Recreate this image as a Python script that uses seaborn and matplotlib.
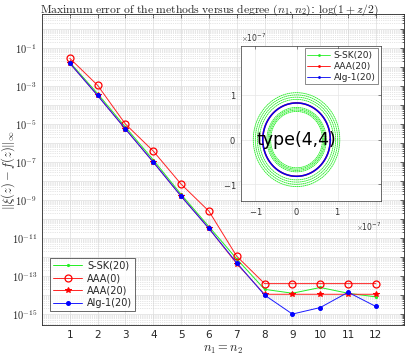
import numpy as np
import pandas as pd
import seaborn as sns
import matplotlib.pyplot as plt
import matplotlib.ticker as mticker

# main panel: max error vs degree
n = [1, 2, 3, 4, 5, 6, 7, 8, 9, 10, 11, 12]
err_ssk20 = [1.8e-2, 4.0e-4, 7.0e-6, 1.3e-7, 2.0e-9, 4.0e-11, 8.0e-13, 2.0e-14, 1.25e-14, 2.5e-14, 1.25e-14, 8.0e-15]
err_aaa0 = [2.9e-2, 1.1e-3, 1.0e-5, 3.8e-7, 6.9e-9, 2.6e-10, 1.1e-12, 4.0e-14, 4.0e-14, 4.0e-14, 4.0e-14, 4.0e-14]
err_aaa20 = [1.6e-2, 3.2e-4, 5.5e-6, 1.0e-7, 1.6e-9, 3.2e-11, 4.5e-13, 1.1e-14, 1.1e-14, 1.1e-14, 1.1e-14, 1.1e-14]
err_alg1 = [1.6e-2, 3.2e-4, 5.5e-6, 1.0e-7, 1.6e-9, 3.2e-11, 5.0e-13, 1.0e-14, 1.0e-15, 2.2e-15, 1.4e-14, 2.5e-15]

# inset: error curves for type (4,4), radii in units of 1e-7
radii_ssk = [0.63, 0.66, 0.69, 0.72, 0.90, 0.95, 1.00, 1.05]
radii_aaa = [0.82]
radii_alg = [0.82]

sns.set_theme(style="white")
plt.rcParams['font.family'] = ['DejaVu Sans']
plt.rcParams['mathtext.fontset'] = 'cm'

df = pd.DataFrame({'n': n, 'S-SK(20)': err_ssk20, 'AAA(0)': err_aaa0,
                   'AAA(20)': err_aaa20, 'Alg-1(20)': err_alg1})

fig = plt.figure(figsize=(4.07, 3.60), dpi=100)
ax = fig.add_axes([0.103, 0.097, 0.889, 0.864])

green = '#22ee22'
styles = {
    'S-SK(20)': dict(color=green, marker='.', markersize=3, mfc=green, mec=green),
    'AAA(0)': dict(color='#ff2222', marker='o', markersize=5, mfc='none', mec='#ff0000', mew=0.9),
    'AAA(20)': dict(color='#ff2222', marker='*', markersize=4, mfc='#ff0000', mec='#ff0000'),
    'Alg-1(20)': dict(color='#1a1aff', marker='o', markersize=2.8, mfc='#0000ff', mec='#0000ff'),
}
for name, st in styles.items():
    sns.lineplot(data=df, x='n', y=name, ax=ax, label=name, linewidth=0.7, **st)

ax.set_yscale('log')
ax.set_xlim(0, 13)
ax.set_ylim(10 ** -15.58, 10 ** 0.79)
ax.set_xticks(n)
ax.yaxis.set_major_locator(mticker.LogLocator(base=10, numticks=30))
ax.yaxis.set_minor_locator(mticker.LogLocator(base=10, subs=np.arange(2, 10), numticks=30))


def ylab(v, pos):
    e = int(round(np.log10(v)))
    return r'$10^{%d}$' % e if e % 2 else ''


ax.yaxis.set_major_formatter(mticker.FuncFormatter(ylab))
ax.yaxis.set_minor_formatter(mticker.NullFormatter())
ax.tick_params(axis='both', which='both', direction='in', top=True, right=True,
               labelsize=7.5, colors='#262626', length=3, width=0.5)
ax.tick_params(which='minor', length=1.8)
ax.grid(True, which='major', color='#dddddd', linewidth=0.5)
ax.grid(True, which='minor', axis='y', color='#cccccc', linewidth=0.5, linestyle=':')
for s in ax.spines.values():
    s.set_color('#262626')
    s.set_linewidth(0.6)

ax.set_xlabel(r'$n_1 = n_2$', fontsize=9, labelpad=2)
ax.set_ylabel(r'$\|\xi(z)-f(z)\|_\infty$', fontsize=9)
ax.yaxis.set_label_coords(-0.07, 0.5)
fig.text(0.515, 0.993,
         r'$\mathrm{Maximum\ error\ of\ the\ methods\ versus\ degree}\ (n_1,n_2)$: $\log(1+z/2)$',
         fontsize=8.4, ha='center', va='top')

leg = ax.legend(loc='lower left', bbox_to_anchor=(0.01, 0.03), fontsize=7, frameon=True,
                fancybox=False, edgecolor='#262626', handlelength=3, borderpad=0.3,
                labelspacing=0.25, handletextpad=0.5)
leg.get_frame().set_linewidth(0.6)

# inset with error curves
axi = fig.add_axes([0.592, 0.442, 0.344, 0.431])
axi.set_facecolor('white')
theta = np.linspace(0, 2 * np.pi, 121)
rows = []
for name, rr in [('S-SK(20)', radii_ssk), ('AAA(20)', radii_aaa), ('Alg-1(20)', radii_alg)]:
    for k, r in enumerate(rr):
        for t in theta:
            rows.append((name, k, r * 1e-7 * np.cos(t), r * 1e-7 * np.sin(t)))
cdf = pd.DataFrame(rows, columns=['method', 'k', 'x', 'y'])

icol = {'S-SK(20)': '#22ee22', 'AAA(20)': '#ff0000', 'Alg-1(20)': '#0000ee'}
for name in ['S-SK(20)', 'AAA(20)', 'Alg-1(20)']:
    sub = cdf[cdf.method == name]
    sns.lineplot(data=sub, x='x', y='y', units='k', estimator=None, sort=False, ax=axi,
                 color=icol[name], linewidth=0.6 if name == 'S-SK(20)' else 1.1,
                 linestyle=(0, (2, 0.5)) if name == 'S-SK(20)' else '-')
    axi.plot([], [], color=icol[name], linewidth=0.6, marker='.', markersize=2, label=name)

axi.set_xlim(-1.35e-7, 2.05e-7)
axi.set_ylim(-1.37e-7, 2.1e-7)
axi.set_xticks([-1e-7, 0, 1e-7])
axi.set_yticks([-1e-7, 0, 1e-7])
for a in (axi.xaxis, axi.yaxis):
    f = mticker.ScalarFormatter(useMathText=True)
    f.set_powerlimits((0, 0))
    a.set_major_formatter(f)
    a.get_offset_text().set_fontsize(5.5)
    a.get_offset_text().set_color('#444444')
axi.set_xlabel('')
axi.set_ylabel('')
axi.tick_params(labelsize=6, colors='#333333', direction='in', length=2, width=0.4,
                top=True, right=True)
axi.grid(True, color='#e6e6e6', linewidth=0.5)
for s in axi.spines.values():
    s.set_color('#333333')
    s.set_linewidth(0.5)
axi.text(0, 0, 'type(4,4)', fontsize=12.5, ha='center', va='center', color='black')
li = axi.legend(loc='upper right', fontsize=6.5, frameon=True, fancybox=False,
                edgecolor='#333333', handlelength=2.5, borderpad=0.3, labelspacing=0.2,
                handletextpad=0.4, borderaxespad=0.3)
li.get_frame().set_linewidth(0.5)

fig.savefig('out.png', dpi=100)
